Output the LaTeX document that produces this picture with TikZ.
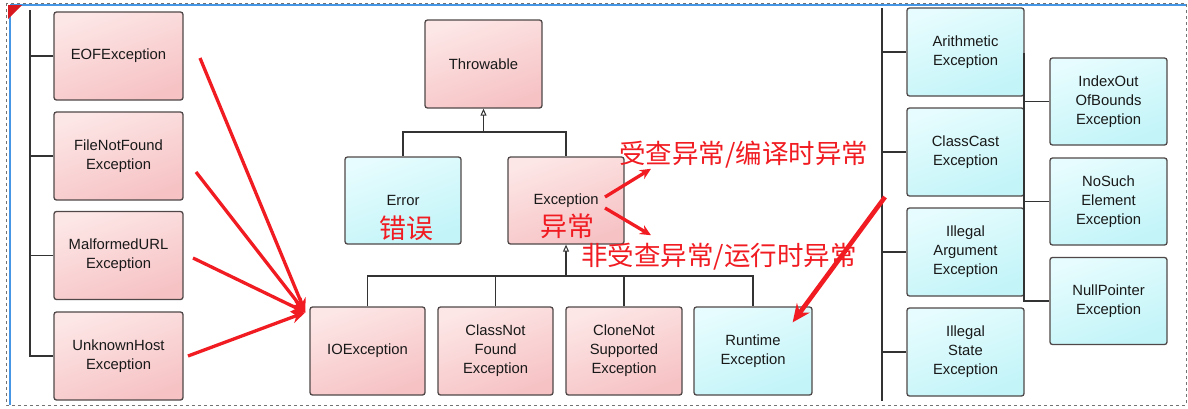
\documentclass[tikz,border=0pt]{standalone}
\usepackage{fontspec}
\setmainfont{Liberation Sans}
\newfontfamily\cjk{Noto Sans CJK SC}
\usetikzlibrary{arrows.meta,calc}
\definecolor{pinkA}{RGB}{253,230,230}
\definecolor{pinkB}{RGB}{246,194,196}
\definecolor{cyanA}{RGB}{230,252,254}
\definecolor{cyanB}{RGB}{194,244,248}
\definecolor{edge}{RGB}{80,72,72}
\definecolor{annot}{RGB}{240,28,34}
\definecolor{selblue}{RGB}{70,150,230}
\tikzset{
  x=1pt, y=-1pt,
  box/.style={draw=edge, line width=1.3pt, rounded corners=2.5pt, align=center,
    font=\fontsize{14.8}{19}\selectfont, text=black!90, inner sep=0pt},
  pbox/.style={box, top color=pinkA, bottom color=pinkB, shading angle=20},
  cbox/.style={box, top color=cyanA, bottom color=cyanB, shading angle=20},
  wire/.style={draw=black!80, line width=1.4pt},
  inh/.style={wire, -{Triangle[open, length=7pt, width=6pt, line width=1pt]}},
  redarr/.style={draw=annot, line width=3.3pt, -{Stealth[length=14pt, width=12pt]}},
  redtxt/.style={text=annot, font=\cjk\fontsize{26.5}{26.5}\selectfont, inner sep=0pt},
}
\begin{document}
\begin{tikzpicture}
\useasboundingbox (0,0) rectangle (1188,408);
% selection frame
\draw[black!55, dashed, line width=0.8pt] (6,3) rectangle (1186,405);
\draw[selblue, line width=1.2pt] (10,5) -- (1186,5);
\draw[selblue, line width=1.2pt] (10,5) -- (10,405);
\fill[annot!90!black] (8,5) -- (22,5) -- (8,19) -- cycle;

% left column
\node[pbox, minimum width=129pt, minimum height=88pt] (eof) at (118.5,56) {EOFException};
\node[pbox, minimum width=129pt, minimum height=88pt] (fnf) at (118.5,156) {FileNotFound\\Exception};
\node[pbox, minimum width=129pt, minimum height=88pt] (mal) at (118.5,255.5) {MalformedURL\\Exception};
\node[pbox, minimum width=129pt, minimum height=88pt] (unk) at (118.5,356) {UnknownHost\\Exception};
\coordinate (lt) at (30,10);
\draw[wire] (lt) |- (unk.west);
\draw[wire] (eof.west) -- (eof.west -| lt);
\draw[wire] (fnf.west) -- (fnf.west -| lt);
\draw[wire] (mal.west) -- (mal.west -| lt);

% centre
\node[pbox, minimum width=117pt, minimum height=88pt] (thr) at (483.5,64) {Throwable};
\node[cbox, minimum width=116pt, minimum height=87pt] (err) at (403,200.5) {Error};
\node[pbox, minimum width=116pt, minimum height=87pt] (exc) at (566,200.5) {Exception};
\coordinate (j1) at (483.5,132);
\draw[wire] (err.north) |- (j1) -| (exc.north);
\draw[inh] (j1) -- (thr.south);

\node[pbox, minimum width=115pt, minimum height=88pt] (io) at (367.5,351) {IOException};
\node[pbox, minimum width=115pt, minimum height=88pt] (cnf) at (495.5,351) {ClassNot\\Found\\Exception};
\node[pbox, minimum width=116pt, minimum height=88pt] (cns) at (624,351) {CloneNot\\Supported\\Exception};
\node[cbox, minimum width=118pt, minimum height=88pt] (rt) at (753,351) {Runtime\\Exception};
\coordinate (j2) at (566,276);
\draw[wire] (io.north) |- (j2) -| (rt.north);
\draw[wire] (cnf.north) -- (cnf.north |- j2);
\draw[wire] (cns.north) -- (cns.north |- j2);
\draw[inh] (j2) -- (exc.south);

% right columns
\node[cbox, minimum width=117pt, minimum height=88pt] (ari) at (965.5,52) {Arithmetic\\Exception};
\node[cbox, minimum width=117pt, minimum height=88pt] (ccs) at (965.5,152) {ClassCast\\Exception};
\node[cbox, minimum width=117pt, minimum height=88pt] (iae) at (965.5,252) {Illegal\\Argument\\Exception};
\node[cbox, minimum width=117pt, minimum height=88pt] (ise) at (965.5,352) {Illegal\\State\\Exception};
\coordinate (rtop) at (882,8);
\coordinate (rbot) at (882,401);
\draw[wire] (rtop) -- (rbot);
\draw[wire] (ari.west) -- (ari.west -| rtop);
\draw[wire] (ccs.west) -- (ccs.west -| rtop);
\draw[wire] (iae.west) -- (iae.west -| rtop);
\draw[wire] (ise.west) -- (ise.west -| rtop);

\node[cbox, minimum width=117pt, minimum height=87pt] (ioob) at (1108.5,101.5) {IndexOut\\OfBounds\\Exception};
\node[cbox, minimum width=117pt, minimum height=87pt] (nse) at (1108.5,201.5) {NoSuch\\Element\\Exception};
\node[cbox, minimum width=117pt, minimum height=87pt] (npe) at (1108.5,301) {NullPointer\\Exception};
\coordinate (r2top) at (1024,53);
\draw[wire] (r2top) |- (npe.west);
\draw[wire] (ioob.west) -- (ioob.west -| r2top);
\draw[wire] (nse.west) -- (nse.west -| r2top);

% annotations
\node[redtxt, font=\cjk\fontsize{27}{27}\selectfont] (cuowu) at (406,228) {错误};
\node[redtxt, font=\cjk\fontsize{27}{27}\selectfont] (yichang) at (567,226) {异常};
\node[redtxt, anchor=west] (checked) at (619,155) {受查异常/编译时异常};
\node[redtxt, anchor=west] (unchecked) at (581,257) {非受查异常/运行时异常};

\coordinate (a1) at (200,58);
\coordinate (a2) at (196,172);
\coordinate (a3) at (193,258);
\coordinate (a4) at (188,356);
\coordinate (iohit) at ($(io.north west)+(-4,6)$);
\draw[redarr] (a1) -- (iohit);
\draw[redarr] (a2) -- (iohit);
\draw[redarr] (a3) -- (iohit);
\draw[redarr] (a4) -- (iohit);

\coordinate (c1) at (605,197);
\coordinate (c2) at (605,208);
\coordinate (c3) at (885,197);
\coordinate (t1) at ($(checked.south west)+(32,0)$);
\coordinate (t2) at ($(unchecked.north west)+(70,-8)$);
\coordinate (t3) at ($(rt.north east)+(-20,16)$);
\draw[redarr, -{Stealth[length=11pt, width=10pt]}] (c1) -- (t1);
\draw[redarr, -{Stealth[length=11pt, width=10pt]}] (c2) -- (t2);
\draw[redarr, line width=4.6pt, -{Stealth[length=18pt, width=16pt]}] (c3) -- (t3);
\end{tikzpicture}
\end{document}
